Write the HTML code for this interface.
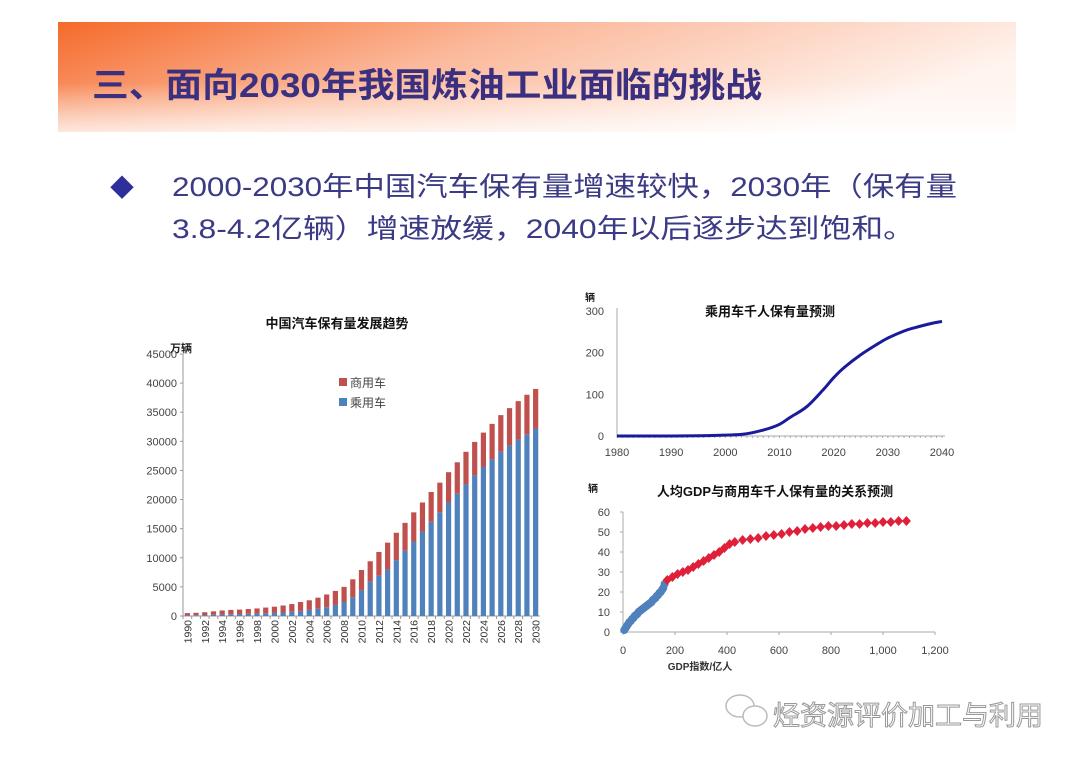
<!DOCTYPE html>
<html><head><meta charset="utf-8">
<style>
body{margin:0;width:1080px;height:763px;background:#fff;overflow:hidden;font-family:"Liberation Sans","Noto Sans CJK SC",sans-serif;}
svg text{font-family:"Liberation Sans","Noto Sans CJK SC",sans-serif;}
</style></head>
<body>
<svg width="1080" height="763" viewBox="0 0 1080 763">
<defs>
<linearGradient id="hg" x1="0" y1="0" x2="1" y2="0.35">
<stop offset="0" stop-color="#f56a2a"/><stop offset="0.45" stop-color="#fbb89a"/><stop offset="1" stop-color="#fff4ef"/>
</linearGradient>
<linearGradient id="hv" x1="0" y1="0" x2="0" y2="1">
<stop offset="0.55" stop-color="#fff" stop-opacity="0"/><stop offset="1" stop-color="#fff" stop-opacity="0.75"/>
</linearGradient>
</defs>
<g>
<rect x="58" y="22" width="958" height="110" fill="url(#hg)"/>
<rect x="58" y="22" width="958" height="110" fill="url(#hv)"/>
</g>
<text x="92" y="97" font-size="34" font-weight="bold" fill="#3b2f80" textLength="670" lengthAdjust="spacingAndGlyphs">三、面向2030年我国炼油工业面临的挑战</text>
<text x="110" y="196" font-size="24" fill="#2e2f9a">◆</text>
<text x="172" y="196" font-size="27" fill="#3b3a84" textLength="785" lengthAdjust="spacingAndGlyphs">2000-2030年中国汽车保有量增速较快，2030年（保有量</text>
<text x="172" y="238" font-size="27" fill="#3b3a84" textLength="743" lengthAdjust="spacingAndGlyphs">3.8-4.2亿辆）增速放缓，2040年以后逐步达到饱和。</text>

<g id="c1"></g>
<g id="c2"></g>
<g id="c3"></g>

<g>
<ellipse cx="740" cy="706" rx="14" ry="11" fill="none" stroke="#bbb" stroke-width="1.5"/>
<ellipse cx="755" cy="716" rx="12" ry="10" fill="#fff" stroke="#bbb" stroke-width="1.5"/>
<text x="773" y="725" font-size="27" fill="#fff" stroke="#999" stroke-width="1">烃资源评价加工与利用</text>
</g>
</svg>
<script>
const NS='http://www.w3.org/2000/svg';
function mk(p,t,a){const e=document.createElementNS(NS,t);for(const k in a)e.setAttribute(k,a[k]);p.appendChild(e);return e;}
function tx(p,x,y,s,o){const e=mk(p,'text',Object.assign({x:x,y:y,'font-size':11,fill:'#333'},o||{}));e.textContent=s;return e;}

// ---- Chart 1 data ----
const years1=[];for(let y=1990;y<=2030;y++)years1.push(y);
const totalStock=[500,550,650,800,950,1050,1100,1200,1300,1450,1600,1800,2050,2400,2700,3150,3700,4300,5000,6300,7900,9400,11000,12600,14300,16000,17800,19500,21300,22900,24700,26400,28200,29900,31500,33000,34500,35700,36900,38000,39000];
const passengerStock=[100,130,170,210,250,290,330,370,410,460,520,600,720,880,1050,1250,1500,1900,2400,3200,4400,5900,6900,8000,9600,11200,12800,14500,16200,17800,19500,21000,22600,24200,25600,26900,28200,29300,30300,31200,32200];
const yTicks1=[0,5000,10000,15000,20000,25000,30000,35000,40000,45000];

(function(){
const g=document.getElementById('c1');
const x0=183,x1=540,yb=616,yt=354,ymax=45000;
const ys=v=>yb-(v/ymax)*(yb-yt);
const step=(x1-x0)/years1.length;
const xs=i=>x0+step*(i+0.5);
const t=tx(g,337,328,'中国汽车保有量发展趋势',{'font-size':13,'font-weight':'bold','text-anchor':'middle',fill:'#111'});

const u=tx(g,170,352,'万辆',{'font-size':11,'font-weight':'bold',fill:'#222'});

mk(g,'line',{x1:x0,y1:yt,x2:x0,y2:yb,stroke:'#999'});
mk(g,'line',{x1:x0,y1:yb,x2:x1,y2:yb,stroke:'#999'});
yTicks1.forEach(v=>{const e=tx(g,177,ys(v)+4,String(v),{'text-anchor':'end','font-size':11,fill:'#444'});

mk(g,'line',{x1:x0-3,y1:ys(v),x2:x0,y2:ys(v),stroke:'#999'});});
years1.forEach((yr,i)=>{
 const bx=xs(i)-2.6;
 const p=mk(g,'rect',{x:bx,y:ys(passengerStock[i]),width:5.2,height:yb-ys(passengerStock[i]),fill:'#4f81bd'});
 
 const c=mk(g,'rect',{x:bx,y:ys(totalStock[i]),width:5.2,height:ys(passengerStock[i])-ys(totalStock[i]),fill:'#c0504d'});
 
 mk(g,'line',{x1:x0+step*i,y1:yb,x2:x0+step*i,y2:yb+3,stroke:'#999'});
 if(i%2===0){const e=tx(g,0,0,String(yr),{'font-size':10.5,fill:'#333','text-anchor':'end',transform:`translate(${xs(i)+4},${yb+4}) rotate(-90)`});
 }
});
const l1=mk(g,'rect',{x:339,y:378,width:8,height:8,fill:'#c0504d'});

const lt1=tx(g,350,387,'商用车',{'font-size':12,fill:'#444'});

const l2=mk(g,'rect',{x:339,y:398,width:8,height:8,fill:'#4f81bd'});

const lt2=tx(g,350,407,'乘用车',{'font-size':12,fill:'#444'});

})();

// ---- Chart 2 data ----
const years2=[1980,1985,1990,1995,2000,2003,2005,2008,2010,2012,2015,2018,2020,2022,2025,2028,2030,2033,2035,2038,2040];
const perThousand=[0,0,0,0.5,2,4,8,18,28,45,70,110,140,165,195,220,235,252,260,270,275];
const yTicks2=[0,100,200,300];
const xTicks2=[1980,1990,2000,2010,2020,2030,2040];
(function(){
const g=document.getElementById('c2');
const x0=617,x1=942,yb=436,yt=311;
const xs=v=>x0+(v-1980)/60*(x1-x0);const ys=v=>yb-v/300*(yb-yt);
const t=tx(g,770,316,'乘用车千人保有量预测',{'font-size':13,'font-weight':'bold','text-anchor':'middle',fill:'#111'});

const u=tx(g,585,301,'辆',{'font-size':10,'font-weight':'bold',fill:'#222'});

mk(g,'line',{x1:x0,y1:yt-3,x2:x0,y2:yb,stroke:'#aaa'});
mk(g,'line',{x1:x0,y1:yb,x2:x1+3,y2:yb,stroke:'#aaa'});
yTicks2.forEach(v=>{const e=tx(g,604,ys(v)+4,String(v),{'text-anchor':'end','font-size':11,fill:'#444'});
});
for(let y=1980;y<=2040;y++)mk(g,'line',{x1:xs(y),y1:yb,x2:xs(y),y2:yb+2,stroke:'#aaa'});
xTicks2.forEach(v=>{const e=tx(g,xs(v),456,String(v),{'text-anchor':'middle','font-size':11,fill:'#444'});
});
const pts=years2.map((y,i)=>[xs(y),ys(perThousand[i])]);
let d='M'+pts[0][0]+','+pts[0][1];
for(let i=1;i<pts.length;i++){const p0=pts[i-2]||pts[i-1],p1=pts[i-1],p2=pts[i],p3=pts[i+1]||p2;
d+=` C${p1[0]+(p2[0]-p0[0])/6},${p1[1]+(p2[1]-p0[1])/6} ${p2[0]-(p3[0]-p1[0])/6},${p2[1]-(p3[1]-p1[1])/6} ${p2[0]},${p2[1]}`;}
const l=mk(g,'path',{d:d,fill:'none',stroke:'#1a1a9c','stroke-width':3});

})();

// ---- Chart 3 data ----
const blueGdp=[5,10,15,20,25,30,35,40,45,50,55,60,65,70,75,80,85,90,95,100,105,110,115,120,125,130,135,140,145,150,155,160];
const blueVeh=[1,2,3,4,5,5.5,6.5,7,8,8.5,9,10,10.5,11,11.5,12,12.5,13,13.5,14,14.5,15,16,16.5,17,18,18.5,19.5,20,21,22,24];
const redGdp=[170,190,210,230,250,270,290,310,330,350,370,390,410,430,460,490,520,550,580,610,640,670,700,730,760,790,820,850,880,910,940,970,1000,1030,1060,1090];
const redVeh=[26,27.5,29,30,31,32.5,34,35.5,37,38.5,40,42,44,45,46,46.5,47,48,48.5,49,50,50.5,51.5,52,52.5,53,53,53.5,54,54,54.5,54.5,55,55,55.5,55.5];
const yTicks3=[0,10,20,30,40,50,60];
const xTicks3=[0,200,400,600,800,1000,1200];
const xTickLabels3=['0','200','400','600','800','1,000','1,200'];
(function(){
const g=document.getElementById('c3');
const x0=623,x1=935,yb=632,yt=512;
const xs=v=>x0+v/1200*(x1-x0);const ys=v=>yb-v/60*(yb-yt);
const t=tx(g,775,496,'人均GDP与商用车千人保有量的关系预测',{'font-size':13,'font-weight':'bold','text-anchor':'middle',fill:'#111'});

const u=tx(g,588,492,'辆',{'font-size':10,'font-weight':'bold',fill:'#222'});

mk(g,'line',{x1:x0,y1:yt,x2:x0,y2:yb,stroke:'#aaa'});
mk(g,'line',{x1:x0,y1:yb,x2:x1,y2:yb,stroke:'#aaa'});
yTicks3.forEach(v=>{const e=tx(g,610,ys(v)+4,String(v),{'text-anchor':'end','font-size':11,fill:'#444'});

mk(g,'line',{x1:x0-3,y1:ys(v),x2:x0,y2:ys(v),stroke:'#aaa'});});
xTicks3.forEach((v,i)=>{const e=tx(g,xs(v),654,xTickLabels3[i],{'text-anchor':'middle','font-size':11,fill:'#444'});

mk(g,'line',{x1:xs(v),y1:yb,x2:xs(v),y2:yb+3,stroke:'#aaa'});});
const xl=tx(g,700,670,'GDP指数/亿人',{'font-size':10,'font-weight':'bold','text-anchor':'middle',fill:'#333'});

blueGdp.forEach((v,i)=>{const c=mk(g,'circle',{cx:xs(v),cy:ys(blueVeh[i]),r:4,fill:'#4f81bd'});
});
redGdp.forEach((v,i)=>{const x=xs(v),y=ys(redVeh[i]);
const c=mk(g,'polygon',{points:`${x},${y-5} ${x+4.5},${y} ${x},${y+5} ${x-4.5},${y}`,fill:'#e0203a'});
});
})();
</script>
</body></html>
